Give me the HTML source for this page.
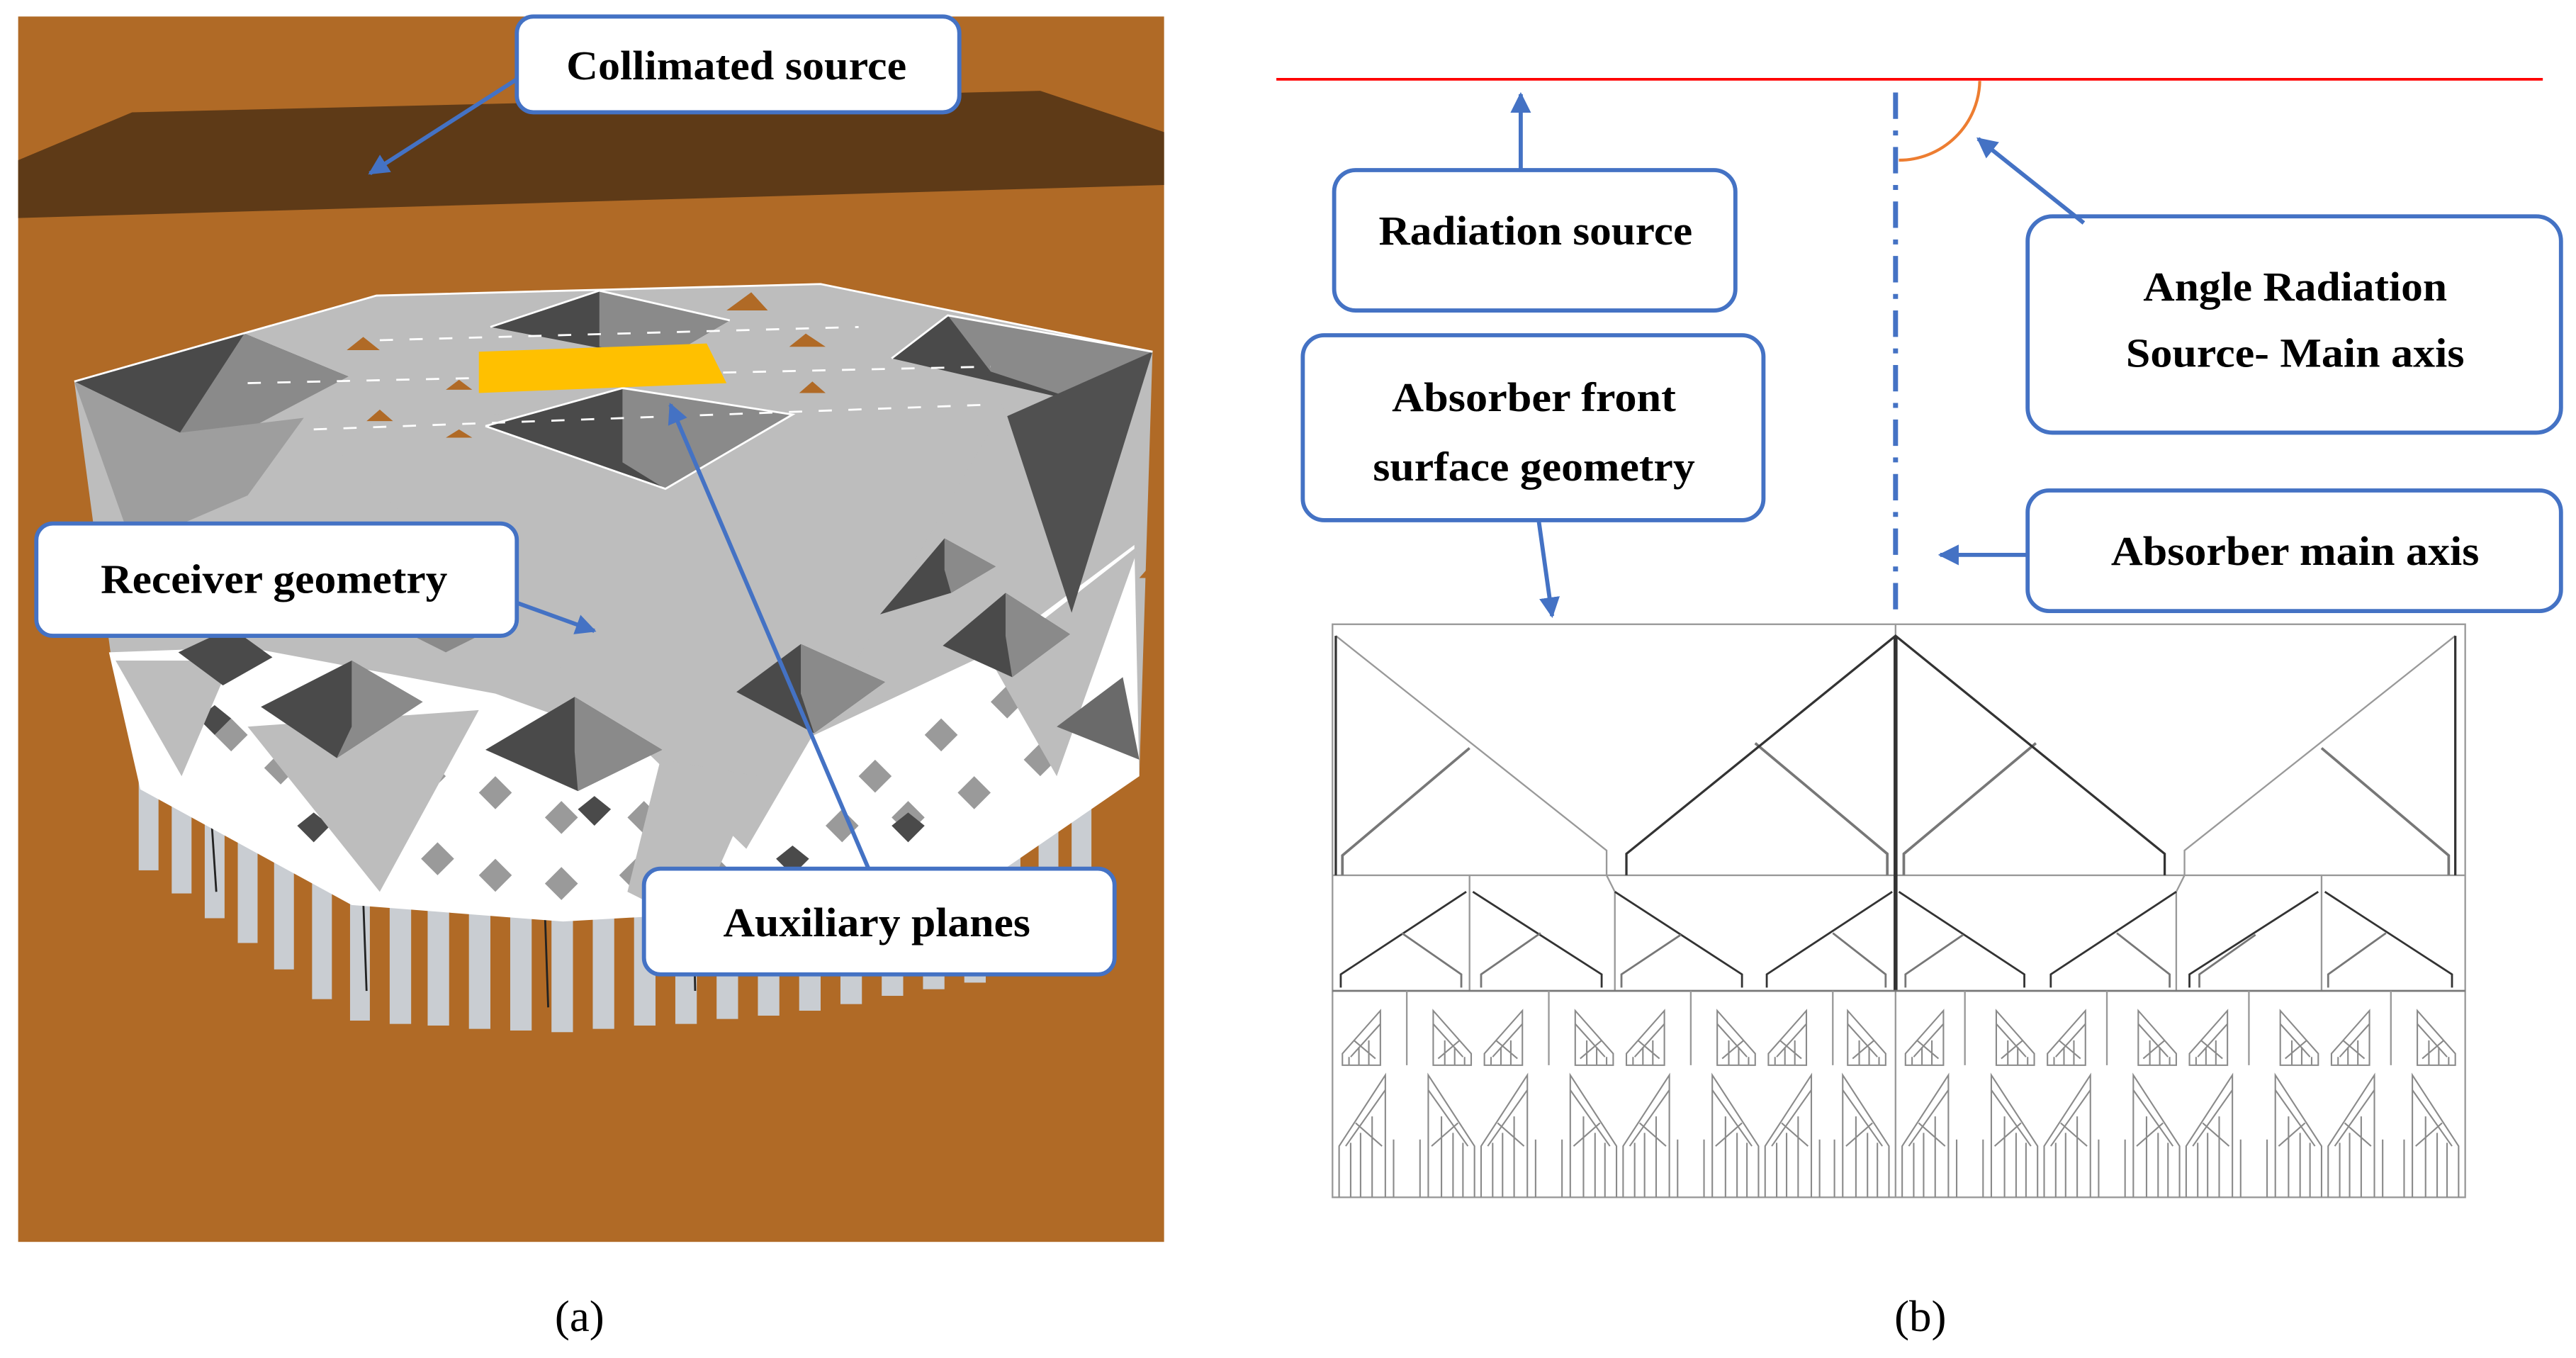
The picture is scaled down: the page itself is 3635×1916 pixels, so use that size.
<!DOCTYPE html>
<html><head><meta charset="utf-8"><style>
html,body{margin:0;padding:0;background:#fff}
svg{display:block}
text{font-family:"Liberation Serif",serif}
.bt{font-weight:bold;font-size:25px;fill:#000}
</style></head><body>
<svg width="3635" height="1916" viewBox="0 0 1560.1 822.3" preserveAspectRatio="none" xmlns="http://www.w3.org/2000/svg">
<defs>
<marker id="ah" viewBox="0 0 10 10" refX="9" refY="5" markerWidth="5" markerHeight="5" orient="auto" markerUnits="strokeWidth">
<path d="M0,0 L10,5 L0,10 Z" fill="#4472C4"/></marker>
<g id="uA" fill="none" stroke="#8a8a8a" stroke-width="0.9">
<path d="M4,645 L4,638 L27,612 L27,645 Z"/>
<path d="M9,640 L27,620 M8,645 L8,640 M14,645 L14,634 M20,645 L20,630 M11,630 L24,641"/>
<path d="M2,725 L2,694 L30,651 L30,725"/>
<path d="M6,694 L30,660 M9,725 L9,692 M15,725 L15,686 M22,725 L22,676 M12,680 L28,694 M35,725 L35,690"/>
</g>
</defs>

<!-- LEFT PANEL -->
<rect x="11" y="10" width="694" height="742" fill="#B06A26"/>
<polygon points="11,97 80,68 630,55 705,80 705,112 11,132" fill="#5E3A17"/>

<!-- legs -->
<g fill="#C9CDD2">
<rect x="84" y="468" width="12" height="59"/><rect x="104" y="480" width="12" height="61"/><rect x="124" y="491" width="12" height="65"/><rect x="144" y="503" width="12" height="68"/><rect x="166" y="516" width="12" height="71"/><rect x="189" y="530" width="12" height="75"/><rect x="212" y="540" width="12" height="78"/><rect x="236" y="542" width="13" height="78"/><rect x="259" y="544" width="13" height="77"/><rect x="284" y="546" width="13" height="77"/><rect x="309" y="548" width="13" height="76"/><rect x="334" y="550" width="13" height="75"/><rect x="359" y="549" width="13" height="74"/><rect x="384" y="548" width="13" height="73"/><rect x="409" y="546" width="13" height="74"/><rect x="434" y="545" width="13" height="72"/><rect x="459" y="543" width="13" height="72"/><rect x="484" y="539" width="13" height="73"/><rect x="509" y="533" width="13" height="75"/><rect x="534" y="528" width="13" height="75"/><rect x="559" y="522" width="13" height="77"/><rect x="584" y="517" width="13" height="78"/><rect x="606" y="505" width="12" height="76"/><rect x="629" y="490" width="12" height="72"/><rect x="649" y="477" width="12" height="69"/>
</g>
<g stroke="#222" stroke-width="1.2">
<line x1="128" y1="495" x2="131" y2="540"/><line x1="220" y1="545" x2="222" y2="600"/><line x1="330" y1="552" x2="332" y2="610"/><line x1="420" y1="550" x2="421" y2="600"/>
</g>
<!-- main body -->
<polygon points="45,231 228,179 497,172 698,213 690,470 640,490 560,520 470,545 341,555 213,545 85,475 68,403" fill="#BDBDBD"/>
<!-- lattice -->
<polygon points="66,395 150,392 300,420 440,470 600,395 687,330 690,470 610,525 480,550 341,558 213,548 85,478" fill="#FFFFFF"/>
<g fill="#9A9A9A">
<polygon points="100,420 110,410 120,420 110,430"/><polygon points="130,445 140,435 150,445 140,455"/><polygon points="160,465 170,455 180,465 170,475"/><polygon points="190,485 200,475 210,485 200,495"/><polygon points="220,505 230,495 240,505 230,515"/><polygon points="255,520 265,510 275,520 265,530"/><polygon points="290,530 300,520 310,530 300,540"/><polygon points="330,535 340,525 350,535 340,545"/><polygon points="375,530 385,520 395,530 385,540"/><polygon points="420,525 430,515 440,525 430,535"/>
<polygon points="250,470 260,460 270,470 260,480"/><polygon points="290,480 300,470 310,480 300,490"/><polygon points="330,495 340,485 350,495 340,505"/><polygon points="380,495 390,485 400,495 390,505"/><polygon points="420,490 430,480 440,490 430,500"/><polygon points="200,450 210,440 220,450 210,460"/>
<polygon points="500,500 510,490 520,500 510,510"/><polygon points="540,495 550,485 560,495 550,505"/><polygon points="580,480 590,470 600,480 590,490"/><polygon points="620,460 630,450 640,460 630,470"/><polygon points="655,440 665,430 675,440 665,450"/><polygon points="560,445 570,435 580,445 570,455"/><polygon points="600,425 610,415 620,425 610,435"/><polygon points="640,405 650,395 660,405 650,415"/><polygon points="520,470 530,460 540,470 530,480"/>
</g>
<g fill="#4A4A4A"><polygon points="180,500 190,492 200,500 190,510"/><polygon points="350,490 360,482 370,490 360,500"/><polygon points="540,500 550,492 560,500 550,510"/><polygon points="470,520 480,512 490,520 480,530"/><polygon points="120,435 130,427 140,435 130,445"/></g>
<!-- light triangles over lattice -->
<polygon points="184,253 609,245 452,514" fill="#BDBDBD"/>
<polygon points="150,440 290,430 230,540" fill="#BDBDBD"/>
<polygon points="400,460 460,470 420,560 380,540" fill="#BDBDBD"/>
<polygon points="70,400 140,400 110,470" fill="#BDBDBD"/>
<polygon points="600,400 690,330 640,470" fill="#BDBDBD"/>
<!-- pyramids / holes -->
<polygon points="45,231 148,202 211,228 109,262" fill="#4A4A4A"/>
<polygon points="148,202 211,228 150,260 109,262" fill="#8A8A8A"/>
<polygon points="297,198 363,176 442,194 401,218" fill="#4A4A4A"/>
<polygon points="363,176 442,194 401,218 363,210" fill="#8A8A8A"/>
<polygon points="294,258 377,235 480,251 403,296" fill="#4A4A4A"/>
<polygon points="377,235 480,251 403,296 377,280" fill="#8A8A8A"/>
<polygon points="540,217 574,191 698,213 661,245" fill="#4A4A4A"/>
<polygon points="574,191 698,213 661,245 600,225" fill="#8A8A8A"/>
<polygon points="610,252 698,213 649,371" fill="#505050"/>
<polygon points="45,231 109,262 184,253 150,300 80,330" fill="#9E9E9E"/>
<polygon points="158,428 213,400 256,425 204,459" fill="#4A4A4A"/><polygon points="213,400 256,425 204,459 213,440" fill="#8A8A8A"/>
<polygon points="294,454 348,422 401,454 350,479" fill="#4A4A4A"/><polygon points="348,422 401,454 350,479 348,455" fill="#8A8A8A"/>
<polygon points="446,419 485,390 536,413 493,444" fill="#4A4A4A"/><polygon points="485,390 536,413 493,444 485,420" fill="#8A8A8A"/>
<polygon points="571,391 609,359 648,384 613,410" fill="#4A4A4A"/><polygon points="609,359 648,384 613,410 609,385" fill="#8A8A8A"/>
<polygon points="533,372 572,326 603,343 576,359" fill="#4A4A4A"/><polygon points="572,326 603,343 576,359 572,345" fill="#8A8A8A"/>
<polygon points="108,395 140,380 165,398 135,415" fill="#4A4A4A"/>
<polygon points="240,380 270,365 300,380 270,395" fill="#8A8A8A"/>
<polygon points="640,440 680,410 690,460" fill="#6A6A6A"/>
<!-- small orange triangles on top -->
<g fill="#B06A26"><polygon points="440,188 455,177 465,188"/><polygon points="478,210 488,202 500,210"/><polygon points="210,212 220,204 230,212"/><polygon points="270,236 278,230 286,236"/><polygon points="222,255 230,248 238,255"/><polygon points="484,238 492,231 500,238"/><polygon points="270,265 278,260 286,265"/><polygon points="690,350 697,342 703,350"/></g>
<!-- white edges -->
<g stroke="#fff" stroke-width="1.2" fill="none">
<polyline points="45,231 228,179 497,172 698,213"/>
<polyline points="294,258 377,235 480,251 403,296 294,258"/>
<polyline points="297,198 363,176 442,194"/>
<polyline points="540,217 574,191 698,213"/>
</g>
<g stroke="#fff" stroke-width="1.2" stroke-dasharray="8,10" fill="none">
<line x1="190" y1="260" x2="600" y2="245"/><line x1="150" y1="232" x2="600" y2="222"/><line x1="230" y1="206" x2="520" y2="198"/>
</g>
<polygon points="290,213 428,208 440,232 290,238" fill="#FFC000"/>

<!-- left boxes -->
<g fill="#fff" stroke="#4472C4" stroke-width="2.5">
<rect x="313" y="10" width="268" height="58" rx="10"/>
<rect x="22" y="317" width="291" height="68" rx="10"/>
<rect x="390" y="526" width="285" height="64" rx="10"/>
</g>
<text class="bt" x="446" y="48" text-anchor="middle" textLength="206" lengthAdjust="spacingAndGlyphs">Collimated source</text>
<text class="bt" x="166" y="359" text-anchor="middle" textLength="210" lengthAdjust="spacingAndGlyphs">Receiver geometry</text>
<text class="bt" x="531" y="567" text-anchor="middle" textLength="186" lengthAdjust="spacingAndGlyphs">Auxiliary planes</text>
<g stroke="#4472C4" stroke-width="2.5" fill="none" marker-end="url(#ah)">
<line x1="313" y1="48" x2="224" y2="105"/>
<line x1="313" y1="365" x2="360" y2="382"/>
<line x1="526" y1="526" x2="406" y2="245"/>
</g>
<text x="351" y="806" text-anchor="middle" font-size="27">(a)</text>

<!-- RIGHT PANEL -->
<line x1="773" y1="48" x2="1540" y2="48" stroke="#FF0000" stroke-width="1.6"/>
<path d="M1150,97 A49,49 0 0 0 1199,49" fill="none" stroke="#ED7D31" stroke-width="1.8"/>
<line x1="1148" y1="56" x2="1148" y2="376" stroke="#4472C4" stroke-width="3" stroke-dasharray="16,7,3,7"/>
<g fill="#fff" stroke="#4472C4" stroke-width="2.5">
<rect x="808" y="103" width="243" height="85" rx="13"/>
<rect x="789" y="203" width="279" height="112" rx="13"/>
<rect x="1228" y="131" width="323" height="131" rx="15"/>
<rect x="1228" y="297" width="323" height="73" rx="13"/>
</g>
<text class="bt" x="930" y="148" text-anchor="middle" textLength="190" lengthAdjust="spacingAndGlyphs">Radiation source</text>
<text class="bt" x="929" y="249" text-anchor="middle" textLength="172" lengthAdjust="spacingAndGlyphs">Absorber front</text>
<text class="bt" x="929" y="291" text-anchor="middle" textLength="195" lengthAdjust="spacingAndGlyphs">surface geometry</text>
<text class="bt" x="1390" y="182" text-anchor="middle" textLength="184" lengthAdjust="spacingAndGlyphs">Angle Radiation</text>
<text class="bt" x="1390" y="222" text-anchor="middle" textLength="205" lengthAdjust="spacingAndGlyphs">Source- Main axis</text>
<text class="bt" x="1390" y="342" text-anchor="middle" textLength="223" lengthAdjust="spacingAndGlyphs">Absorber main axis</text>
<g stroke="#4472C4" stroke-width="2.5" fill="none" marker-end="url(#ah)">
<line x1="921" y1="103" x2="921" y2="57"/>
<line x1="932" y1="316" x2="940" y2="373"/>
<line x1="1262" y1="135" x2="1198" y2="84"/>
<line x1="1228" y1="336" x2="1175" y2="336"/>
</g>

<!-- absorber drawing -->
<g fill="none" stroke="#999" stroke-width="1">
<rect x="807" y="378" width="686" height="347"/>
<line x1="807" y1="530" x2="1493" y2="530"/>
<line x1="1148" y1="378" x2="1148" y2="725"/>
<line x1="890" y1="530" x2="890" y2="600"/><line x1="1406" y1="530" x2="1406" y2="600"/>
<polyline points="809,385 973,515 973,530"/>
<polyline points="1487,385 1323,515 1323,530"/>
<polyline points="973,530 978,540 978,600"/>
<polyline points="1323,530 1318,540 1318,600"/>
</g>
<g fill="none" stroke="#777" stroke-width="1.6">
<polyline points="813,530 813,518 890,453"/>
<polyline points="1063,450 1143,517 1143,530"/>
<polyline points="1233,450 1153,517 1153,530"/>
<polyline points="1483,530 1483,518 1406,453"/>
</g>
<g fill="none" stroke="#333" stroke-width="1.4">
<line x1="809" y1="385" x2="809" y2="530"/>
<line x1="1487" y1="385" x2="1487" y2="530"/>
<polyline points="985,530 985,517 1148,385 1311,517 1311,530"/>
</g>
<line x1="1148" y1="385" x2="1148" y2="600" stroke="#333" stroke-width="2.4"/>
<!-- middle row small triangles -->
<g fill="none" stroke="#333" stroke-width="1.2">
<polyline points="812,598 812,590 888,540"/>
<polyline points="892,540 970,590 970,598"/>
<polyline points="978,540 1055,590 1055,598"/>
<polyline points="1070,598 1070,590 1146,540"/>
<polyline points="1150,540 1226,590 1226,598"/>
<polyline points="1242,598 1242,590 1318,540"/>
<polyline points="1326,598 1326,590 1404,540"/>
<polyline points="1408,540 1485,590 1485,598"/>
</g>
<g fill="none" stroke="#777" stroke-width="1.2">
<polyline points="849,565 885,590 885,598"/><polyline points="933,565 897,590 897,598"/><polyline points="1018,566 982,590 982,598"/><polyline points="1110,565 1142,590 1142,598"/><polyline points="1189,566 1154,590 1154,598"/><polyline points="1282,565 1314,590 1314,598"/><polyline points="1366,566 1332,590 1332,598"/><polyline points="1445,565 1410,590 1410,598"/>
<line x1="807" y1="600" x2="1493" y2="600"/>
</g>
<!-- bottom pattern -->
<g>
<use href="#uA" transform="translate(809,0)"/>
<use href="#uA" transform="translate(895,0) scale(-1,1)"/>
<use href="#uA" transform="translate(895,0)"/>
<use href="#uA" transform="translate(981,0) scale(-1,1)"/>
<use href="#uA" transform="translate(981,0)"/>
<use href="#uA" transform="translate(1067,0) scale(-1,1)"/>
<use href="#uA" transform="translate(1067,0)"/>
<use href="#uA" transform="translate(1146,0) scale(-1,1)"/>
<use href="#uA" transform="translate(1150,0)"/>
<use href="#uA" transform="translate(1236,0) scale(-1,1)"/>
<use href="#uA" transform="translate(1236,0)"/>
<use href="#uA" transform="translate(1322,0) scale(-1,1)"/>
<use href="#uA" transform="translate(1322,0)"/>
<use href="#uA" transform="translate(1408,0) scale(-1,1)"/>
<use href="#uA" transform="translate(1408,0)"/>
<use href="#uA" transform="translate(1491,0) scale(-1,1)"/>
</g>
<g stroke="#999" stroke-width="1">
<line x1="852" y1="600" x2="852" y2="645"/><line x1="938" y1="600" x2="938" y2="645"/><line x1="1024" y1="600" x2="1024" y2="645"/><line x1="1110" y1="600" x2="1110" y2="645"/><line x1="1190" y1="600" x2="1190" y2="645"/><line x1="1276" y1="600" x2="1276" y2="645"/><line x1="1362" y1="600" x2="1362" y2="645"/><line x1="1448" y1="600" x2="1448" y2="645"/>
</g>
<text x="1163" y="806" text-anchor="middle" font-size="27">(b)</text>
</svg>
</body></html>
